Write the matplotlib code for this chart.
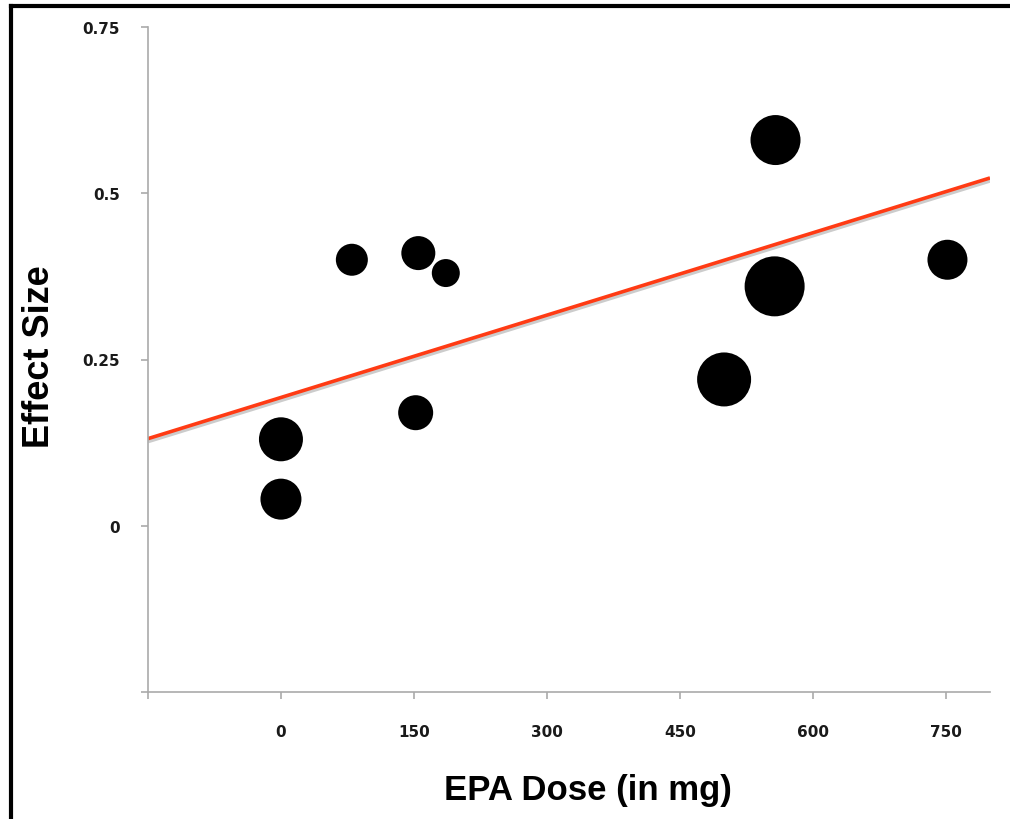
import numpy as np
import matplotlib.pyplot as plt
from matplotlib.lines import Line2D

# EPA dose (mg) vs effect size, bubble radius in px
dose = [0, 0, 80, 155, 186, 152, 500, 558, 557, 752]
effect = [0.13, 0.04, 0.40, 0.41, 0.38, 0.17, 0.22, 0.58, 0.36, 0.40]
radius = [22, 20.5, 16, 17, 14, 17.5, 27, 25, 30, 20]

# fitted line endpoints (dose, effect)
fit_x = [-150, 800]
fit_y = [0.131, 0.523]

xticks = [-150, 0, 150, 300, 450, 600, 750]
xlabels = ['', '0', '150', '300', '450', '600', '750']
yticks = [-0.25, 0, 0.25, 0.5, 0.75]
ylabels = ['', '0', '0.25', '0.5', '0.75']

fig = plt.figure(figsize=(10.1, 8.2), dpi=100)
ax = fig.add_axes([148 / 1010, 1 - 693 / 820, (990 - 148) / 1010, (693 - 28) / 820])

sizes = [(1.44 * r) ** 2 for r in radius]
ax.scatter(dose, effect, s=sizes, color='black', edgecolors='none', zorder=3)

# grey shadow under the trend line, then the line
ax.plot(fit_x, [v - 0.004 for v in fit_y], color='#cccccc', lw=3, zorder=1,
        solid_capstyle='butt')
ax.plot(fit_x, fit_y, color='#ff3b14', lw=2.6, zorder=2, solid_capstyle='butt')

ax.set_xlim(-150, 800)
ax.set_ylim(-0.25, 0.75)
ax.set_xticks(xticks)
ax.set_xticklabels(xlabels)
ax.set_yticks(yticks)
ax.set_yticklabels(ylabels)

for s in ['top', 'right']:
    ax.spines[s].set_visible(False)
for s in ['left', 'bottom']:
    ax.spines[s].set_color('#aaaaaa')
    ax.spines[s].set_linewidth(1.2)

ax.tick_params(axis='both', colors='#aaaaaa', length=5, width=1.2,
               labelcolor='#1a1a1a', labelsize=11)
ax.tick_params(axis='x', pad=18)
ax.tick_params(axis='y', pad=15)
for lab in ax.get_xticklabels() + ax.get_yticklabels():
    lab.set_fontweight('bold')
    lab.set_family('DejaVu Sans')

fig.text(588 / 1010, 1 - 791 / 820, 'EPA Dose (in mg)', ha='center', va='center',
         fontsize=25, fontweight='bold', family='Liberation Sans')
fig.text(40 / 1010, 1 - 357 / 820, 'Effect Size', ha='center', va='center',
         rotation=90, fontsize=26, fontweight='bold', family='Liberation Sans')

# frame: only left and top edges are visible in the picture
fig.add_artist(Line2D([11 / 1010, 11 / 1010], [0, 1 - 7 / 820], color='black', lw=3))
fig.add_artist(Line2D([11 / 1010, 1], [1 - 7 / 820, 1 - 7 / 820], color='black', lw=3))

fig.savefig('out.png', dpi=100)
